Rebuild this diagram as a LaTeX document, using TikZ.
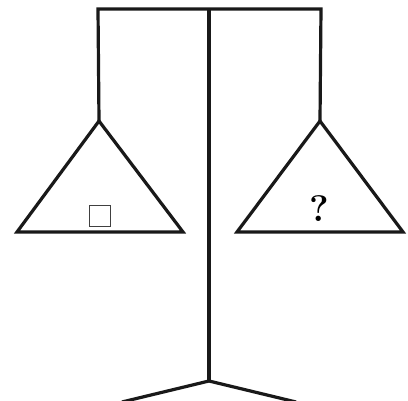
\documentclass[tikz,border=0pt]{standalone}
\begin{document}
\begin{tikzpicture}[x=1pt,y=-1pt,
  beam/.style={line width=3.2pt,black!90,line join=miter},
  thin/.style={line width=1.5pt,black!75}]
\useasboundingbox (0,0) rectangle (408,401);
% coordinates
\coordinate (TL) at (98,9);
\coordinate (TR) at (321,9);
\coordinate (TM) at (209,9);
\coordinate (BM) at (209,381);
\coordinate (LA) at (99,121);
\coordinate (RA) at (320,121);
\coordinate (LL) at (17,232);
\coordinate (LR) at (183,232);
\coordinate (RL) at (237,232);
\coordinate (RR) at (403,232);
\coordinate (FL) at (122,402);
\coordinate (FR) at (296,402);
% beam and hangers
\draw[beam] (LA) -- (TL) -- (TR) -- (RA);
\draw[beam] (TM) -- (BM);
\draw[beam] (FL) -- (BM) -- (FR);
% pans
\draw[beam] (LL) -- (LA) -- (LR) -- cycle;
\draw[beam] (RL) -- (RA) -- (RR) -- cycle;
% contents
\node[thin,draw,minimum size=21pt,inner sep=0pt] (sq) at (100,216) {};
\node[inner sep=0pt] (q) at (319,209) {\fontsize{37}{42}\selectfont\bfseries ?};
\end{tikzpicture}
\end{document}
